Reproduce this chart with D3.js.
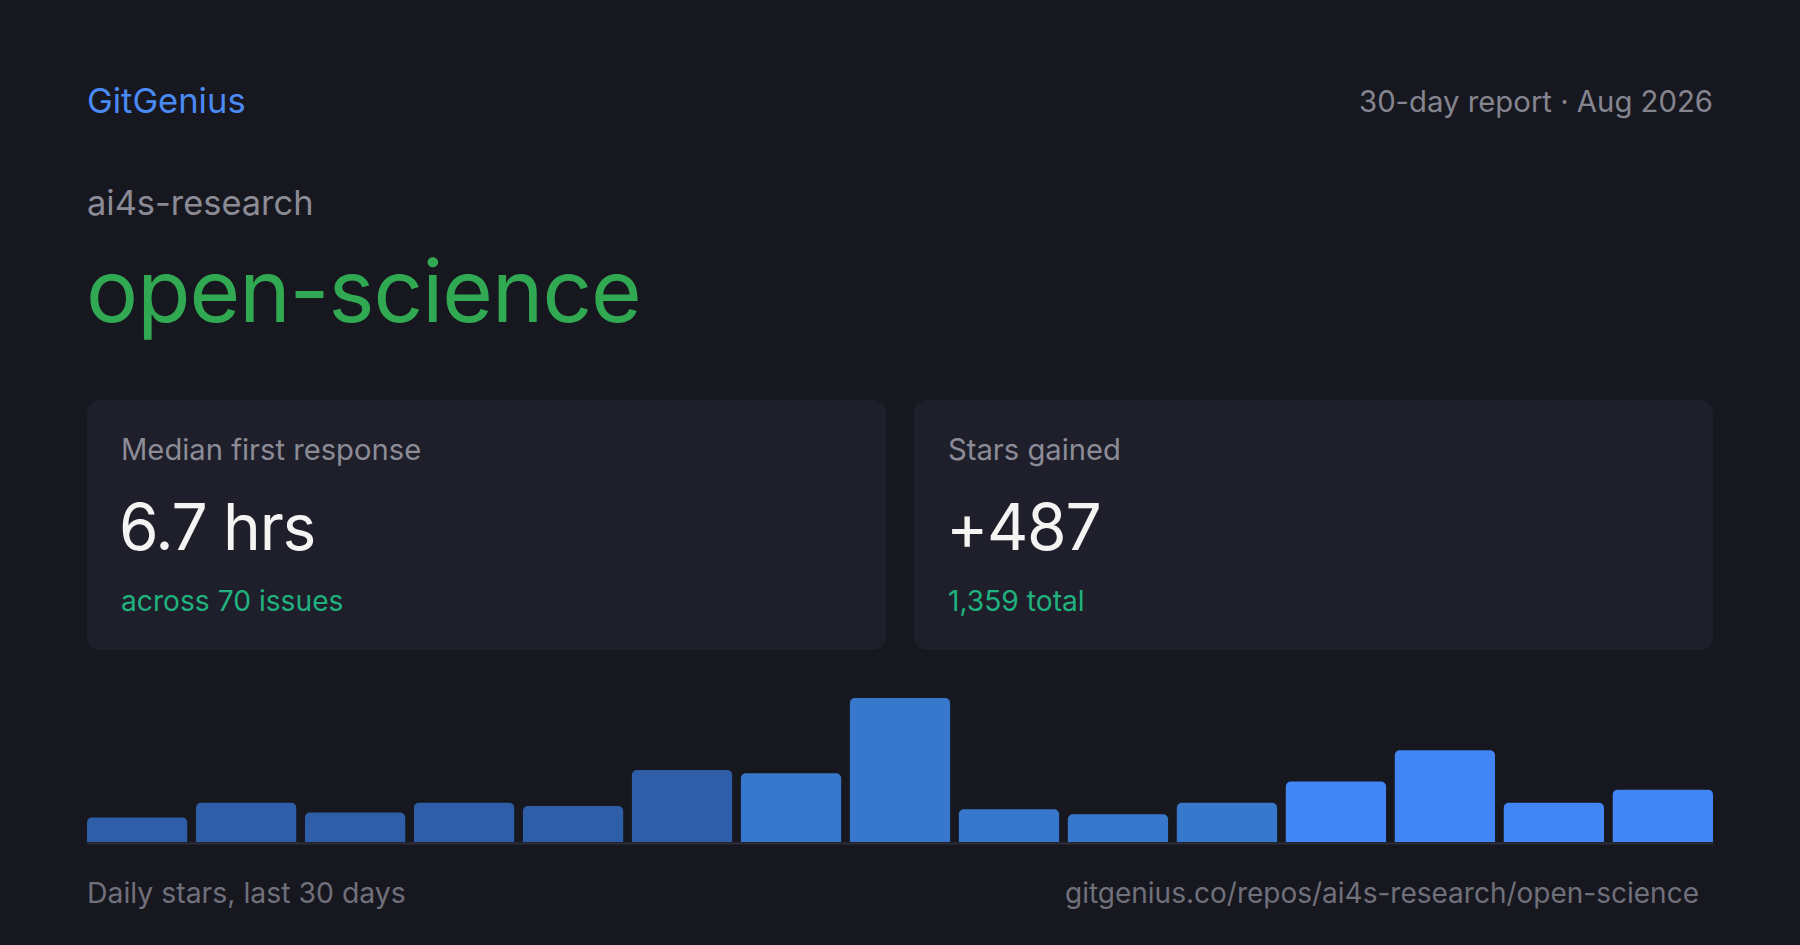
<!DOCTYPE html>
<html>
<head>
<meta charset="utf-8">
<script src="https://cdn.jsdelivr.net/npm/d3@7"></script>
<style>
  html, body { margin: 0; padding: 0; background: #17171f; overflow: hidden; }
  svg { display: block; font-family: Inter, "Noto Sans", sans-serif; }
</style>
</head>
<body>
<svg id="chart"></svg>
<script>
const periods = ["1", "2", "3", "4", "5", "6", "7", "8", "9", "10", "11", "12", "13", "14", "15"];
const dailyStars = [15, 24, 18, 24, 22, 44, 42, 88, 20, 17, 24, 37, 56, 24, 32];

const statLabels = ["Median first response", "Stars gained"];
const statValues = ["6.7 hrs", "+487"];
const statNotes = ["across 70 issues", "1,359 total"];

const brand = "GitGenius";
const reportLabel = "30-day report \u00b7 Aug 2026";
const owner = "ai4s-research";
const repo = "open-science";
const chartCaption = "Daily stars, last 30 days";
const repoUrl = "gitgenius.co/repos/ai4s-research/open-science";

const svgWidth = 1800,
    svgHeight = 945,
    pad = {left: 87, right: 87};

const innerWidth = svgWidth - pad.left - pad.right;

const chart = d3.select("#chart")
    .attr("width", svgWidth)
    .attr("height", svgHeight);

chart.append("rect")
    .attr("width", svgWidth)
    .attr("height", svgHeight)
    .attr("fill", "#17171f");

// header
chart.append("text")
    .attr("x", pad.left)
    .attr("y", 113)
    .attr("fill", "#4a8af4")
    .style("font-size", "34.5px")
    .text(brand);

chart.append("text")
    .attr("x", svgWidth - pad.right)
    .attr("y", 112)
    .attr("text-anchor", "end")
    .attr("fill", "#85858f")
    .style("font-size", "29.3px")
    .text(reportLabel);

chart.append("text")
    .attr("x", pad.left)
    .attr("y", 215)
    .attr("fill", "#8b8b95")
    .style("font-size", "34.4px")
    .text(owner);

chart.append("text")
    .attr("x", pad.left - 1)
    .attr("y", 322)
    .attr("fill", "#31a852")
    .style("font-size", "87px")
    .style("letter-spacing", "-1px")
    .text(repo);

// stat cards
const cardGap = 28,
    cardWidth = (innerWidth - cardGap) / 2,
    cardTop = 400,
    cardHeight = 250;

const cardX = d3.scaleBand()
    .domain(statLabels)
    .range([pad.left, svgWidth - pad.right])
    .paddingInner(cardGap / (cardWidth + cardGap));

const cards = chart.append("g")
    .selectAll("g")
    .data(statLabels)
    .enter()
    .append("g")
    .attr("transform", function(d) { return "translate(" + cardX(d) + "," + cardTop + ")"; });

cards.append("rect")
    .attr("width", cardX.bandwidth())
    .attr("height", cardHeight)
    .attr("rx", 13)
    .attr("fill", "#1f1f2b");

cards.append("text")
    .attr("x", 34)
    .attr("y", 60)
    .attr("fill", "#8c8c96")
    .style("font-size", "29.2px")
    .text(function(d) { return d; });

cards.append("text")
    .attr("x", 32)
    .attr("y", 150)
    .attr("fill", "#f4f4f2")
    .style("font-size", "64px")
    .style("letter-spacing", "-1.3px")
    .text(function(d, i) { return statValues[i]; });

cards.append("text")
    .attr("x", 34)
    .attr("y", 211)
    .attr("fill", "#20b27e")
    .style("font-size", "28.2px")
    .text(function(d, i) { return statNotes[i]; });

// daily stars bars
const baseY = 842,
    barTop = 698;

var xScale = d3.scaleBand()
    .domain(periods)
    .range([pad.left, svgWidth - pad.right])
    .paddingInner(0.08)
    .paddingOuter(0);

var yScale = d3.scaleLinear()
    .domain([0, d3.max(dailyStars)])
    .range([baseY, barTop]);

// older periods drawn dimmer
var shade = d3.scaleThreshold()
    .domain([5.5, 10.5])
    .range(["#2e5ea7", "#3778cc", "#4285f4"]);

function topRounded(x, y, w, h, r) {
    r = Math.min(r, h, w / 2);
    return "M" + x + "," + (y + h) +
        "V" + (y + r) +
        "A" + r + "," + r + " 0 0 1 " + (x + r) + "," + y +
        "H" + (x + w - r) +
        "A" + r + "," + r + " 0 0 1 " + (x + w) + "," + (y + r) +
        "V" + (y + h) + "Z";
}

chart.append("g")
    .selectAll("path")
    .data(dailyStars)
    .enter()
    .append("path")
    .attr("fill", function(d, i) { return shade(i); })
    .attr("d", function(d, i) {
        return topRounded(xScale(periods[i]), yScale(d), xScale.bandwidth(), baseY - yScale(d), 5);
    });

var xAxis = d3.axisBottom(xScale).tickSize(0).tickSizeOuter(0);

chart.append("g")
    .attr("transform", "translate(0," + (baseY + 1) + ")")
    .call(xAxis)
    .call(function(g) {
        g.selectAll(".tick").remove();
        g.select(".domain").attr("stroke", "#2e2f3b").attr("stroke-width", 2);
    });

// footer
chart.append("text")
    .attr("x", pad.left)
    .attr("y", 903)
    .attr("fill", "#70707b")
    .style("font-size", "28.4px")
    .text(chartCaption);

chart.append("text")
    .attr("x", 1699)
    .attr("y", 903)
    .attr("text-anchor", "end")
    .attr("fill", "#70707b")
    .style("font-size", "28px")
    .text(repoUrl);
</script>
</body>
</html>
